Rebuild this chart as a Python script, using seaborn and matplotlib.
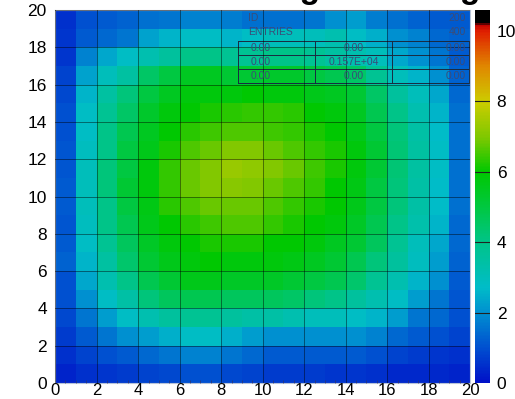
import numpy as np
import pandas as pd
import seaborn as sns
import matplotlib.pyplot as plt
from matplotlib.colors import LinearSegmentedColormap

# bin contents, row 0 = bottom (y bin 0..1), column = x bin
rows = [
    [0.3, 0.5, 0.6, 0.7, 0.8, 0.9, 1.0, 1.0, 0.9, 0.8, 0.7, 0.7, 0.7, 0.6, 0.6, 0.5, 0.4, 0.4, 0.4, 0.3],
    [0.5, 0.8, 1.0, 1.2, 1.4, 1.6, 1.8, 1.8, 1.6, 1.4, 1.2, 1.2, 1.2, 1.2, 1.2, 1.0, 0.8, 0.7, 0.6, 0.5],
    [0.7, 1.2, 1.6, 2.0, 2.2, 2.5, 2.8, 2.8, 2.5, 2.2, 2.0, 2.0, 2.0, 2.0, 2.0, 1.8, 1.4, 1.2, 1.0, 0.8],
    [0.9, 1.6, 2.2, 2.8, 3.2, 3.6, 3.8, 3.8, 3.6, 3.4, 3.4, 3.2, 3.0, 3.0, 2.8, 2.6, 2.2, 1.6, 1.4, 1.0],
    [1.0, 2.0, 2.8, 3.4, 4.2, 4.6, 4.8, 4.8, 4.6, 4.6, 4.6, 4.5, 4.2, 4.0, 3.6, 3.2, 2.8, 2.2, 1.6, 1.1],
    [1.0, 2.4, 3.2, 4.0, 4.8, 5.2, 5.6, 5.6, 5.4, 5.4, 5.4, 5.2, 5.0, 4.8, 4.4, 3.8, 3.2, 2.6, 2.0, 1.2],
    [1.3, 2.6, 3.5, 4.4, 5.2, 5.6, 5.8, 6.0, 5.8, 5.8, 5.8, 5.7, 5.5, 5.2, 4.8, 4.2, 3.6, 2.9, 2.2, 1.3],
    [1.2, 2.8, 3.8, 4.6, 5.4, 5.8, 6.0, 6.2, 6.2, 6.2, 6.0, 6.0, 5.8, 5.5, 5.2, 4.6, 3.8, 3.0, 2.4, 1.4],
    [1.1, 2.9, 4.0, 4.8, 5.6, 6.0, 6.3, 6.5, 6.6, 6.6, 6.4, 6.2, 6.0, 5.8, 5.4, 4.8, 4.0, 3.3, 2.6, 1.4],
    [1.2, 3.0, 4.0, 5.0, 5.7, 6.3, 6.6, 6.8, 6.8, 6.8, 6.6, 6.4, 6.2, 6.0, 5.6, 5.0, 4.2, 3.4, 2.7, 1.5],
    [1.2, 3.0, 4.2, 5.2, 5.8, 6.4, 6.8, 7.0, 7.1, 7.0, 6.8, 6.6, 6.4, 6.0, 5.7, 5.0, 4.2, 3.4, 2.7, 1.5],
    [1.1, 3.0, 4.2, 5.0, 5.8, 6.4, 6.8, 7.0, 7.3, 7.2, 7.0, 6.8, 6.5, 6.2, 5.8, 5.2, 4.3, 3.5, 2.8, 1.5],
    [1.1, 2.9, 4.0, 5.0, 5.6, 6.2, 6.6, 6.8, 7.0, 7.0, 6.8, 6.6, 6.4, 6.2, 5.8, 5.2, 4.3, 3.5, 2.8, 1.5],
    [1.0, 2.8, 4.0, 4.8, 5.5, 6.0, 6.3, 6.5, 6.6, 6.6, 6.5, 6.4, 6.2, 6.0, 5.6, 5.0, 4.2, 3.4, 2.7, 1.5],
    [1.0, 2.8, 3.8, 4.5, 5.3, 5.8, 6.0, 6.2, 6.3, 6.4, 6.4, 6.3, 6.0, 5.8, 5.5, 4.8, 4.0, 3.2, 2.6, 1.5],
    [0.9, 2.6, 3.5, 4.2, 5.0, 5.5, 5.8, 5.8, 5.8, 6.0, 5.8, 5.8, 5.6, 5.5, 5.2, 4.5, 3.6, 3.0, 2.4, 1.4],
    [0.8, 2.3, 3.0, 3.5, 4.5, 5.0, 5.5, 5.5, 5.2, 5.2, 5.3, 5.3, 5.0, 4.8, 4.5, 3.8, 3.0, 2.6, 2.0, 1.3],
    [0.6, 1.8, 2.4, 2.8, 3.2, 3.6, 4.0, 4.0, 3.8, 3.8, 4.0, 4.0, 3.8, 3.5, 3.2, 3.0, 2.4, 2.0, 1.6, 1.2],
    [0.6, 1.2, 1.4, 1.6, 2.3, 2.6, 2.8, 2.8, 2.6, 2.8, 3.0, 3.0, 3.0, 3.2, 2.8, 2.5, 2.0, 1.8, 1.4, 1.3],
    [0.5, 1.0, 1.2, 1.3, 1.5, 1.6, 1.8, 1.8, 1.7, 1.5, 1.5, 1.5, 1.6, 2.0, 2.2, 1.7, 1.5, 1.3, 1.2, 1.2],
]
x_ticks = [0, 2, 4, 6, 8, 10, 12, 14, 16, 18, 20]
y_ticks = [0, 2, 4, 6, 8, 10, 12, 14, 16, 18, 20]
z_ticks = [0, 2, 4, 6, 8, 10]
zmax = 10.6

stats_top = [("ID", "200"), ("ENTRIES", "400")]
stats_grid = [["0.00", "0.00", "0.00"],
              ["0.00", "0.157E+04", "0.00"],
              ["0.00", "0.00", "0.00"]]

df = pd.DataFrame(rows)

# rainbow palette like the ROOT one in the picture
nodes = [
    (0.0, "#0010c8"), (1.0, "#0050d0"), (2.0, "#0090d0"), (2.7, "#00bcc8"),
    (4.0, "#00c488"), (5.0, "#00c840"), (6.0, "#00c800"), (7.0, "#80c800"),
    (8.0, "#cccc00"), (9.0, "#e08800"), (10.0, "#e02000"), (10.2, "#c00000"),
    (10.25, "#000000"), (zmax, "#000000"),
]
cmap = LinearSegmentedColormap.from_list("rootpal", [(v / zmax, c) for v, c in nodes])

plt.rcParams["font.family"] = ["Liberation Sans", "DejaVu Sans"]
fig = plt.figure(figsize=(5.15, 3.99), dpi=100)
ax = fig.add_axes([0.107, 0.04, 0.806, 0.935])
cax = fig.add_axes([0.922, 0.04, 0.029, 0.935])

sns.heatmap(df, ax=ax, cmap=cmap, vmin=0, vmax=zmax, cbar_ax=cax,
            xticklabels=False, yticklabels=False)
ax.invert_yaxis()

ax.set_xticks(x_ticks)
ax.set_xticklabels([str(t) for t in x_ticks], fontsize=12)
ax.set_yticks(y_ticks)
ax.set_yticklabels([str(t) for t in y_ticks], fontsize=12.5)
ax.set_xticks(np.arange(0, 20.5, 0.5), minor=True)
ax.tick_params(axis="both", which="major", length=0)
ax.tick_params(axis="x", which="major", pad=0)
ax.tick_params(axis="y", which="major", pad=6)
ax.tick_params(axis="x", which="minor", direction="in", length=2, color="#333366", width=0.5)
ax.grid(True, which="major", color="black", alpha=0.45, linewidth=0.7)
ax.set_axisbelow(False)
ax.set_xlabel("")
ax.set_ylabel("")
for s in ax.spines.values():
    s.set_visible(True)
    s.set_color("#b8c4d8")
    s.set_linewidth(0.8)

# colorbar
cb = ax.collections[0].colorbar
cb.set_ticks(z_ticks)
cb.ax.tick_params(labelsize=12.5, length=0, pad=5)
cb.outline.set_edgecolor("#b8c4d8")
for z in z_ticks[1:5]:
    cax.axhline(z, color="#222222", linewidth=0.8)

# stats box in the upper right corner
txt_col = "#3a4c78"
fs = 7.5
ax.text(9.3, 19.55, stats_top[0][0], fontsize=fs, color=txt_col, va="center")
ax.text(19.8, 19.55, stats_top[0][1], fontsize=fs, color=txt_col, va="center", ha="right")
ax.text(9.3, 18.8, stats_top[1][0], fontsize=fs, color=txt_col, va="center")
ax.text(19.8, 18.8, stats_top[1][1], fontsize=fs, color=txt_col, va="center", ha="right")
tab_l, tab_r = 8.8, 19.95
col_x = [tab_l, 12.5, 16.25, tab_r]
row_y = [18.35, 17.6, 16.85, 16.1]
for yv in row_y:
    ax.plot([tab_l, tab_r], [yv, yv], color="#1a2a40", linewidth=0.7)
for xv in col_x:
    ax.plot([xv, xv], [row_y[-1], row_y[0]], color="#1a2a40", linewidth=0.7)
for i, r in enumerate(stats_grid):
    yc = (row_y[i] + row_y[i + 1]) / 2
    ax.text(9.4, yc, r[0], fontsize=fs, color=txt_col, va="center")
    ax.text((col_x[1] + col_x[2]) / 2, yc, r[1], fontsize=fs, color=txt_col,
            va="center", ha="center")
    ax.text(19.8, yc, r[2], fontsize=fs, color=txt_col, va="center", ha="right")

# title mostly cut off by the top edge
fig.text(0.42, 1.006, "Histogram filling", fontsize=24, fontweight="bold",
         va="baseline", ha="left")

fig.savefig("out.png", dpi=100)
